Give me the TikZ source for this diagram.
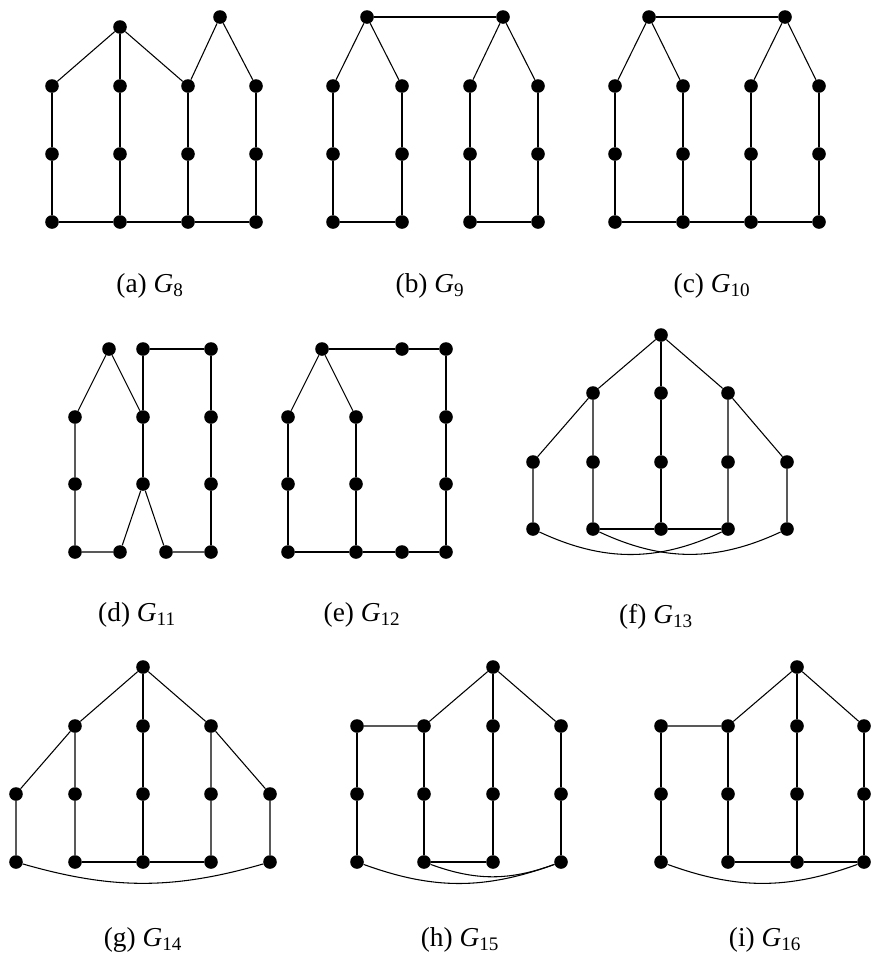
\documentclass[tikz,border=0pt]{standalone}
\usepackage{fontspec}
\setmainfont{Liberation Serif}

\tikzset{
  vtx/.style={circle,fill=black,inner sep=0pt,minimum size=10.2pt},
  edge/.style={line width=0.8pt},
  caplabel/.style={font=\fontsize{20.5}{24}\selectfont}
}

\begin{document}
\begin{tikzpicture}[x=0.75pt,y=-0.75pt]
\useasboundingbox (0,0) rectangle (875,968);
% (a) G8
\foreach \c/\x in {1/52,2/120,3/188,4/256}{\foreach \r/\y in {1/86,2/154,3/222}{\node[vtx] (a\c\r) at (\x,\y) {};}}
\node[vtx] (at) at (120,27) {}; \node[vtx] (au) at (220,17) {};
\foreach \c in {1,...,4}{\draw[edge] (a\c1)--(a\c2)--(a\c3);}
\draw[edge] (a13)--(a23)--(a33)--(a43);
\draw[edge] (a11)--(at)--(a31); \draw[edge] (at)--(a21); \draw[edge] (a31)--(au)--(a41);
\node[caplabel] (lab-a) at (150,286) {(a) \textit{G}\textsubscript{8}};
% (b) G9
\foreach \c/\x in {1/333,2/402,3/470,4/538}{\foreach \r/\y in {1/86,2/154,3/222}{\node[vtx] (b\c\r) at (\x,\y) {};}}
\node[vtx] (bt) at (367,17) {}; \node[vtx] (bu) at (503,17) {};
\foreach \c in {1,...,4}{\draw[edge] (b\c1)--(b\c2)--(b\c3);}
\draw[edge] (b13)--(b23); \draw[edge] (b33)--(b43);
\draw[edge] (b11)--(bt)--(b21); \draw[edge] (b31)--(bu)--(b41); \draw[edge] (bt)--(bu);
\node[caplabel] (lab-b) at (430,286) {(b) \textit{G}\textsubscript{9}};
% (c) G10
\foreach \c/\x in {1/615,2/683,3/751,4/819}{\foreach \r/\y in {1/86,2/154,3/222}{\node[vtx] (c\c\r) at (\x,\y) {};}}
\node[vtx] (ct) at (649,17) {}; \node[vtx] (cu) at (785,17) {};
\foreach \c in {1,...,4}{\draw[edge] (c\c1)--(c\c2)--(c\c3);}
\draw[edge] (c13)--(c23)--(c33)--(c43);
\draw[edge] (c11)--(ct)--(c21); \draw[edge] (c31)--(cu)--(c41); \draw[edge] (ct)--(cu);
\node[caplabel] (lab-c) at (712,286) {(c) \textit{G}\textsubscript{10}};
% (d) G11
\node[vtx] (dt) at (109,349) {}; \node[vtx] (d21) at (143,349) {}; \node[vtx] (d31) at (211,349) {};
\foreach \c/\x in {1/75,2/143,3/211}{\foreach \r/\y in {2/417,3/484}{\node[vtx] (d\c\r) at (\x,\y) {};}}
\node[vtx] (d14) at (75,552) {}; \node[vtx] (dl) at (120,552) {}; \node[vtx] (dr) at (166,552) {}; \node[vtx] (d34) at (211,552) {};
\draw[edge] (d12)--(dt)--(d22); \draw[edge] (d22)--(d21)--(d31)--(d32)--(d33)--(d34);
\draw[edge] (d12)--(d13)--(d14)--(dl)--(d23)--(dr)--(d34); \draw[edge] (d22)--(d23);
\node[caplabel] (lab-d) at (137,615) {(d) \textit{G}\textsubscript{11}};
% (e) G12
\node[vtx] (et) at (322,349) {}; \node[vtx] (ex) at (402,349) {}; \node[vtx] (e31) at (446,349) {};
\foreach \c/\x in {1/288,2/356,3/446}{\foreach \r/\y in {2/417,3/484,4/552}{\node[vtx] (e\c\r) at (\x,\y) {};}}
\node[vtx] (ey) at (402,552) {};
\draw[edge] (e12)--(et)--(e22); \draw[edge] (et)--(ex)--(e31)--(e32)--(e33)--(e34);
\draw[edge] (e12)--(e13)--(e14)--(e24)--(ey)--(e34); \draw[edge] (e22)--(e23)--(e24);
\node[caplabel] (lab-e) at (362,615) {(e) \textit{G}\textsubscript{12}};
% (f) G13
\node[vtx] (ft) at (661,335) {};
\foreach \c/\x in {2/593,3/661,4/728}{\node[vtx] (f\c2) at (\x,393) {};}
\foreach \c/\x in {1/533,2/593,3/661,4/728,5/787}{\foreach \r/\y in {3/462,4/529}{\node[vtx] (f\c\r) at (\x,\y) {};}}
\foreach \c in {2,3,4}{\draw[edge] (ft)--(f\c2)--(f\c3)--(f\c4);}
\draw[edge] (f22)--(f13)--(f14); \draw[edge] (f42)--(f53)--(f54);
\draw[edge] (f24)--(f34)--(f44);
\draw[edge] (f14) to[bend right=25] (f44); \draw[edge] (f24) to[bend right=25] (f54);
\node[caplabel] (lab-f) at (656,617) {(f) \textit{G}\textsubscript{13}};
% (g) G14
\node[vtx] (gt) at (143,667) {};
\foreach \c/\x in {2/75,3/143,4/211}{\node[vtx] (g\c2) at (\x,726) {};}
\foreach \c/\x in {1/16,2/75,3/143,4/211,5/270}{\foreach \r/\y in {3/794,4/862}{\node[vtx] (g\c\r) at (\x,\y) {};}}
\foreach \c in {2,3,4}{\draw[edge] (gt)--(g\c2)--(g\c3)--(g\c4);}
\draw[edge] (g22)--(g13)--(g14); \draw[edge] (g42)--(g53)--(g54);
\draw[edge] (g24)--(g34)--(g44);
\draw[edge] (g14) to[bend right=16] (g54);
\node[caplabel] (lab-g) at (143,940) {(g) \textit{G}\textsubscript{14}};
% (h) G15
\node[vtx] (ht) at (493,667) {};
\foreach \c/\x in {1/357,2/424,3/493,4/561}{\foreach \r/\y in {2/726,3/794,4/862}{\node[vtx] (h\c\r) at (\x,\y) {};}}
\foreach \c in {1,...,4}{\draw[edge] (h\c2)--(h\c3)--(h\c4);}
\draw[edge] (h12)--(h22)--(ht)--(h42); \draw[edge] (ht)--(h32);
\draw[edge] (h24)--(h34);
\draw[edge] (h14) to[bend right=20] (h44); \draw[edge] (h24) to[bend right=20] (h44);
\node[caplabel] (lab-h) at (460,940) {(h) \textit{G}\textsubscript{15}};
% (i) G16
\node[vtx] (it) at (797,667) {};
\foreach \c/\x in {1/661,2/728,3/797,4/864}{\foreach \r/\y in {2/726,3/794,4/862}{\node[vtx] (i\c\r) at (\x,\y) {};}}
\foreach \c in {1,...,4}{\draw[edge] (i\c2)--(i\c3)--(i\c4);}
\draw[edge] (i12)--(i22)--(it)--(i42); \draw[edge] (it)--(i32);
\draw[edge] (i24)--(i34)--(i44);
\draw[edge] (i14) to[bend right=20] (i44);
\node[caplabel] (lab-i) at (765,940) {(i) \textit{G}\textsubscript{16}};
\end{tikzpicture}
\end{document}
